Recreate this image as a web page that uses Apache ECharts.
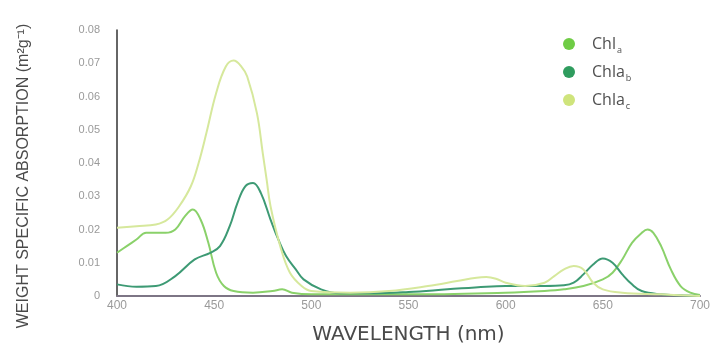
<!DOCTYPE html>
<html>
<head>
<meta charset="utf-8">
<script src="https://cdn.jsdelivr.net/npm/echarts@6/dist/echarts.min.js"></script>
<style>
  html, body { margin: 0; padding: 0; background: #fff; }
  #main { width: 715px; height: 345px; }
</style>
</head>
<body>
<div id="main"></div>
<script>
// wavelength (nm) / absorption pairs
var chlAWave = [400, 405, 410, 415, 420, 425, 430, 435, 439, 443, 447, 451, 455, 460, 470, 480, 485, 490, 500, 520, 550, 600, 620, 630, 640, 650, 655, 660, 665, 670, 673, 676, 680, 685, 690, 695, 700];
var chlAVal = [0.013, 0.015, 0.017, 0.019, 0.019, 0.019, 0.020, 0.024, 0.026, 0.023, 0.016, 0.007, 0.003, 0.0015, 0.001, 0.0015, 0.002, 0.001, 0.0005, 0.0005, 0.0005, 0.001, 0.0015, 0.002, 0.003, 0.005, 0.007, 0.011, 0.016, 0.019, 0.020, 0.019, 0.015, 0.008, 0.003, 0.001, 0.0003];

var chlBWave = [400, 410, 420, 430, 440, 448, 453, 458, 462, 466, 470, 474, 479, 483, 487, 492, 496, 505, 515, 530, 550, 570, 590, 600, 620, 630, 635, 640, 645, 650, 655, 660, 665, 670, 680, 690, 700];
var chlBVal = [0.0035, 0.0028, 0.003, 0.006, 0.011, 0.013, 0.015, 0.021, 0.028, 0.033, 0.034, 0.031, 0.023, 0.017, 0.012, 0.008, 0.005, 0.002, 0.0008, 0.0008, 0.0012, 0.002, 0.0028, 0.003, 0.003, 0.0032, 0.004, 0.0065, 0.0095, 0.0113, 0.010, 0.0065, 0.0035, 0.0015, 0.0005, 0.0002, 0];

var chlCWave = [400, 410, 420, 426, 432, 438, 442, 446, 451, 456, 460, 464, 467, 472, 475, 477, 479, 484, 489, 495, 500, 520, 540, 560, 575, 585, 590, 595, 600, 610, 620, 625, 630, 635, 640, 645, 650, 660, 680, 700];
var chlCVal = [0.0205, 0.021, 0.0215, 0.023, 0.027, 0.033, 0.040, 0.049, 0.061, 0.069, 0.0708, 0.069, 0.066, 0.055, 0.043, 0.035, 0.027, 0.015, 0.007, 0.003, 0.0015, 0.001, 0.0015, 0.003, 0.0045, 0.0055, 0.0057, 0.0052, 0.004, 0.003, 0.004, 0.006, 0.008, 0.009, 0.008, 0.004, 0.002, 0.001, 0.0005, 0];

var xTicks = [400, 450, 500, 550, 600, 650, 700];
var yTicks = [0, 0.01, 0.02, 0.03, 0.04, 0.05, 0.06, 0.07, 0.08];

function pairs(xs, ys) {
    var out = [];
    for (var i = 0; i < xs.length; i++) {
        out.push([xs[i], ys[i]]);
    }
    return out;
}

var legendText = {
    'Chl_a': '{m|Chl}{s|a}',
    'Chla_b': '{m|Chla}{s|b}',
    'Chla_c': '{m|Chla}{s|c}'
};

var myChart = echarts.init(document.getElementById('main'));

var option = {
    animation: false,
    backgroundColor: '#fff',
    grid: { left: 117, right: 15, top: 30, bottom: 49, outerBoundsMode: 'none' },
    legend: {
        orient: 'vertical',
        left: 558,
        top: 31,
        itemGap: 9.5,
        itemWidth: 12,
        itemHeight: 12,
        icon: 'circle',
        formatter: function (name) { return legendText[name]; },
        textStyle: {
            rich: {
                m: { fontSize: 16, color: '#505050', fontFamily: 'Open Sans', lineHeight: 21, padding: [0, 0, 0, 12] },
                s: { fontSize: 9, color: '#505050', fontFamily: 'Open Sans', verticalAlign: 'bottom', padding: [9, 0, 0, 1] }
            }
        },
        data: ['Chl_a', 'Chla_b', 'Chla_c']
    },
    xAxis: {
        type: 'value',
        min: 400,
        max: 700,
        interval: 50,
        name: 'WAVELENGTH (nm)',
        nameLocation: 'middle',
        nameGap: 29,
        nameTextStyle: { fontSize: 20, color: '#4a4a4a', fontFamily: 'DejaVu Sans' },
        axisLine: { lineStyle: { color: '#7d7585', width: 2 } },
        axisTick: { show: false },
        splitLine: { show: false },
        axisLabel: {
            color: '#9a9a9a',
            fontSize: 12,
            margin: 4,
            formatter: function (v) { return xTicks.indexOf(v) >= 0 ? String(v) : ''; }
        }
    },
    yAxis: {
        type: 'value',
        min: 0,
        max: 0.08,
        interval: 0.01,
        name: 'WEIGHT SPECIFIC ABSORPTION (m²g⁻¹)',
        nameLocation: 'middle',
        nameRotate: 90,
        nameGap: 85,
        nameTextStyle: { fontSize: 16, color: '#4a4a4a', fontFamily: 'sans-serif', padding: [0, 26, 0, 0] },
        axisLine: { show: true, lineStyle: { color: '#333', width: 1.5 } },
        axisTick: { show: false },
        splitLine: { show: false },
        axisLabel: {
            color: '#9a9a9a',
            fontSize: 11,
            margin: 17,
            formatter: function (v) {
                var t = yTicks.filter(function (k) { return Math.abs(k - v) < 1e-9; });
                return t.length ? (v === 0 ? '0' : v.toFixed(2)) : '';
            }
        }
    },
    series: [
        {
            name: 'Chl_a',
            type: 'line',
            smooth: 0.4,
            showSymbol: false,
            color: '#6fcc45',
            lineStyle: { color: '#8ad16a', width: 2 },
            data: pairs(chlAWave, chlAVal)
        },
        {
            name: 'Chla_b',
            type: 'line',
            smooth: 0.4,
            showSymbol: false,
            color: '#2f9c5e',
            lineStyle: { color: '#3d9a74', width: 2 },
            data: pairs(chlBWave, chlBVal)
        },
        {
            name: 'Chla_c',
            type: 'line',
            smooth: 0.4,
            showSymbol: false,
            color: '#cfe47c',
            lineStyle: { color: '#d6e89c', width: 2 },
            data: pairs(chlCWave, chlCVal)
        }
    ]
};

myChart.setOption(option);
</script>
</body>
</html>
